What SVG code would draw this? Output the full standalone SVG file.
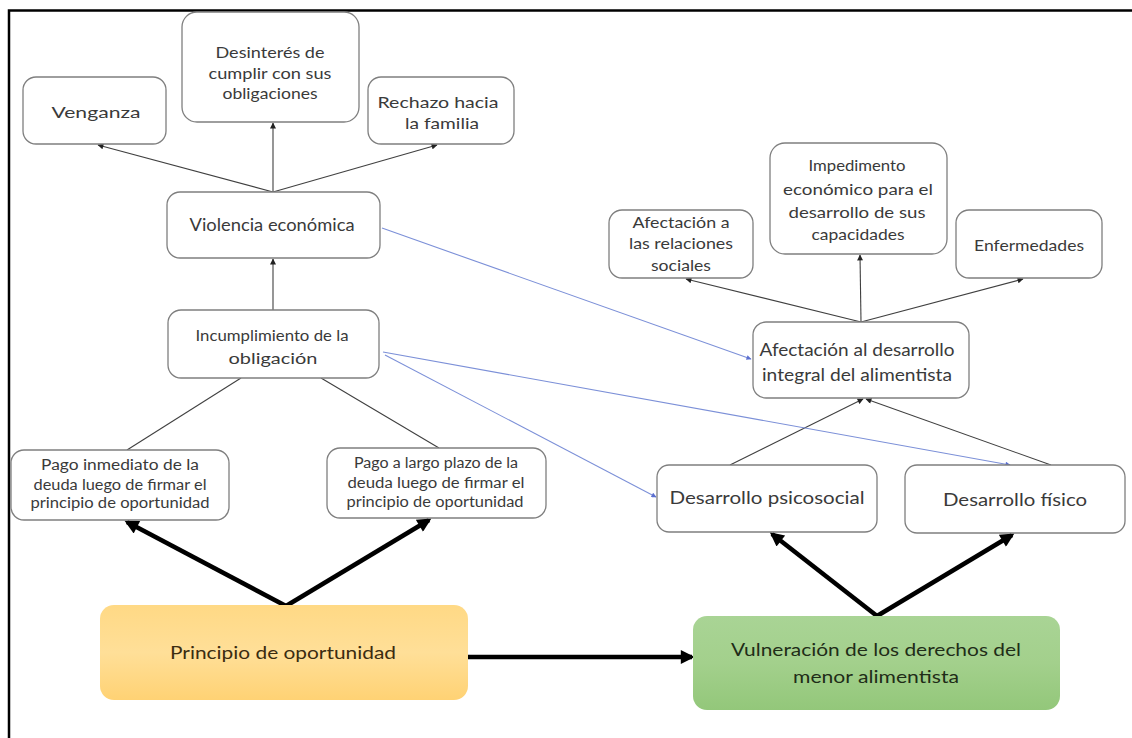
<svg xmlns="http://www.w3.org/2000/svg" width="1132" height="738" viewBox="0 0 1132 738">
<defs>
<style>
.box{fill:#ffffff;stroke:#7f7f7f;stroke-width:1.3}
.t{font-family:Lato,"Liberation Sans",sans-serif;fill:#3a3a3a;text-anchor:middle}
.s14{font-size:14.5px}
.s16{font-size:16px}
.s17{font-size:17px}
.s18{font-size:18px}
.c{fill:none;stroke:#404040;stroke-width:1.1}
.b{fill:none;stroke:#7c90d8;stroke-width:1.1}
.k{fill:none;stroke:#000;stroke-width:4.5}
</style>
<marker id="ah" viewBox="0 0 10 10" refX="9" refY="5" markerWidth="7" markerHeight="6" markerUnits="userSpaceOnUse" orient="auto"><path d="M0,0 L10,5 L0,10 z" fill="#222"/></marker>
<marker id="ab" viewBox="0 0 10 10" refX="9" refY="5" markerWidth="6" markerHeight="5" markerUnits="userSpaceOnUse" orient="auto"><path d="M0,0 L10,5 L0,10 z" fill="#5b6fd0"/></marker>
<marker id="ak" viewBox="0 0 10 10" refX="8" refY="5" markerWidth="16" markerHeight="14" markerUnits="userSpaceOnUse" orient="auto"><path d="M0,0 L10,5 L0,10 z" fill="#000"/></marker>
<linearGradient id="gOr" x1="0" y1="0" x2="0" y2="1"><stop offset="0" stop-color="#ffd985"/><stop offset="0.5" stop-color="#ffdf98"/><stop offset="1" stop-color="#ffd274"/></linearGradient>
<linearGradient id="gGr" x1="0" y1="0" x2="0" y2="1"><stop offset="0" stop-color="#a9d495"/><stop offset="0.5" stop-color="#a3d08c"/><stop offset="1" stop-color="#93c77a"/></linearGradient>
</defs>
<rect width="1132" height="738" fill="#ffffff"/>
<g id="frame"><path d="M9,738 L9,10.5 L1132,10.5" fill="none" stroke="#000" stroke-width="2.5"/></g>

<g id="connectors">
<line class="c" x1="273" y1="192" x2="98" y2="145" marker-end="url(#ah)"/>
<line class="c" x1="273" y1="192" x2="273" y2="123" marker-end="url(#ah)"/>
<line class="c" x1="273" y1="192" x2="437" y2="145" marker-end="url(#ah)"/>
<line class="c" x1="273" y1="310" x2="273" y2="259" marker-end="url(#ah)"/>
<line class="c" x1="241" y1="378" x2="127" y2="450"/>
<line class="c" x1="321" y1="378" x2="439" y2="448"/>
<line class="c" x1="861" y1="322" x2="686" y2="279" marker-end="url(#ah)"/>
<line class="c" x1="861" y1="322" x2="860" y2="255" marker-end="url(#ah)"/>
<line class="c" x1="861" y1="322" x2="1023" y2="279" marker-end="url(#ah)"/>
<line class="c" x1="730" y1="465" x2="863" y2="399" marker-end="url(#ah)"/>
<line class="c" x1="1051" y1="465" x2="866" y2="399" marker-end="url(#ah)"/>
<line class="b" x1="382" y1="228" x2="751" y2="359" marker-end="url(#ab)"/>
<line class="b" x1="385" y1="355" x2="656" y2="497" marker-end="url(#ab)"/>
<line class="b" x1="383" y1="352" x2="1010" y2="465" marker-end="url(#ab)"/>
<line class="k" x1="286" y1="606" x2="127" y2="522" marker-end="url(#ak)"/>
<line class="k" x1="286" y1="606" x2="429" y2="520" marker-end="url(#ak)"/>
<line class="k" x1="468" y1="657" x2="692" y2="657" marker-end="url(#ak)"/>
<line class="k" x1="877" y1="616" x2="772" y2="534" marker-end="url(#ak)"/>
<line class="k" x1="877" y1="616" x2="1012" y2="535" marker-end="url(#ak)"/>
</g>

<g id="venganza"><rect class="box" x="23" y="77" width="143" height="67" rx="13"/>
<text class="t s16" x="96" y="118" textLength="89" lengthAdjust="spacingAndGlyphs">Venganza</text></g>

<g id="desinteres"><rect class="box" x="182" y="12" width="177" height="110" rx="15"/>
<text class="t s16" x="270" y="58" textLength="109" lengthAdjust="spacingAndGlyphs">Desinterés de</text>
<text class="t s16" x="270" y="79" textLength="123" lengthAdjust="spacingAndGlyphs">cumplir con sus</text>
<text class="t s16" x="270" y="99" textLength="95" lengthAdjust="spacingAndGlyphs">obligaciones</text></g>

<g id="rechazo"><rect class="box" x="368" y="77" width="146" height="67" rx="13"/>
<text class="t s16" x="438" y="108" textLength="121" lengthAdjust="spacingAndGlyphs">Rechazo hacia</text>
<text class="t s16" x="442" y="129" textLength="74" lengthAdjust="spacingAndGlyphs">la familia</text></g>

<g id="violencia"><rect class="box" x="167" y="192" width="213" height="66" rx="13"/>
<text class="t s17" x="272" y="231" textLength="165" lengthAdjust="spacingAndGlyphs">Violencia económica</text></g>

<g id="incumplimiento"><rect class="box" x="168" y="310" width="211" height="68" rx="13"/>
<text class="t s16" x="272" y="341" textLength="153" lengthAdjust="spacingAndGlyphs">Incumplimiento de la</text>
<text class="t s16" x="273" y="364" textLength="89" lengthAdjust="spacingAndGlyphs">obligación</text></g>

<g id="pago-inmediato"><rect class="box" x="11" y="450" width="218" height="70" rx="13"/>
<text class="t s14" x="120" y="470" textLength="158" lengthAdjust="spacingAndGlyphs">Pago inmediato de la</text>
<text class="t s14" x="120" y="490" textLength="173" lengthAdjust="spacingAndGlyphs">deuda luego de firmar el</text>
<text class="t s14" x="120" y="508" textLength="179" lengthAdjust="spacingAndGlyphs">principio de oportunidad</text></g>

<g id="pago-largo"><rect class="box" x="327" y="448" width="219" height="70" rx="13"/>
<text class="t s14" x="436" y="468" textLength="164" lengthAdjust="spacingAndGlyphs">Pago a largo plazo de la</text>
<text class="t s14" x="436" y="488" textLength="177" lengthAdjust="spacingAndGlyphs">deuda luego de firmar el</text>
<text class="t s14" x="435" y="507" textLength="177" lengthAdjust="spacingAndGlyphs">principio de oportunidad</text></g>

<g id="afectacion-relaciones"><rect class="box" x="609" y="210" width="144" height="68" rx="13"/>
<text class="t s16" x="681" y="228" textLength="97" lengthAdjust="spacingAndGlyphs">Afectación a</text>
<text class="t s16" x="681" y="249" textLength="104" lengthAdjust="spacingAndGlyphs">las relaciones</text>
<text class="t s16" x="681" y="271" textLength="60" lengthAdjust="spacingAndGlyphs">sociales</text></g>

<g id="impedimento"><rect class="box" x="770" y="143" width="177" height="111" rx="15"/>
<text class="t s16" x="857" y="171" textLength="97" lengthAdjust="spacingAndGlyphs">Impedimento</text>
<text class="t s16" x="858" y="195" textLength="150" lengthAdjust="spacingAndGlyphs">económico para el</text>
<text class="t s16" x="857" y="218" textLength="137" lengthAdjust="spacingAndGlyphs">desarrollo de sus</text>
<text class="t s16" x="858" y="240" textLength="93" lengthAdjust="spacingAndGlyphs">capacidades</text></g>

<g id="enfermedades"><rect class="box" x="956" y="210" width="146" height="68" rx="13"/>
<text class="t s16" x="1029" y="251" textLength="110" lengthAdjust="spacingAndGlyphs">Enfermedades</text></g>

<g id="afectacion-desarrollo"><rect class="box" x="753" y="322" width="216" height="76" rx="13"/>
<text class="t s17" x="857" y="356" textLength="195" lengthAdjust="spacingAndGlyphs">Afectación al desarrollo</text>
<text class="t s17" x="857" y="381" textLength="190" lengthAdjust="spacingAndGlyphs">integral del alimentista</text></g>

<g id="psicosocial"><rect class="box" x="657" y="465" width="220" height="67" rx="12"/>
<text class="t s18" x="767" y="504" textLength="195" lengthAdjust="spacingAndGlyphs">Desarrollo psicosocial</text></g>

<g id="fisico"><rect class="box" x="905" y="465" width="220" height="68" rx="12"/>
<text class="t s18" x="1015" y="506" textLength="144" lengthAdjust="spacingAndGlyphs">Desarrollo físico</text></g>

<g id="principio"><rect x="100" y="605" width="368" height="95" rx="14" fill="url(#gOr)"/>
<text class="t s18" x="283" y="659" textLength="226" lengthAdjust="spacingAndGlyphs" style="fill:#3b2c10">Principio de oportunidad</text></g>

<g id="vulneracion"><rect x="693" y="616" width="367" height="94" rx="14" fill="url(#gGr)"/>
<text class="t s18" x="876" y="656" textLength="290" lengthAdjust="spacingAndGlyphs" style="fill:#1f2d18">Vulneración de los derechos del</text>
<text class="t s18" x="876" y="683" textLength="166" lengthAdjust="spacingAndGlyphs" style="fill:#1f2d18">menor alimentista</text></g>
</svg>
